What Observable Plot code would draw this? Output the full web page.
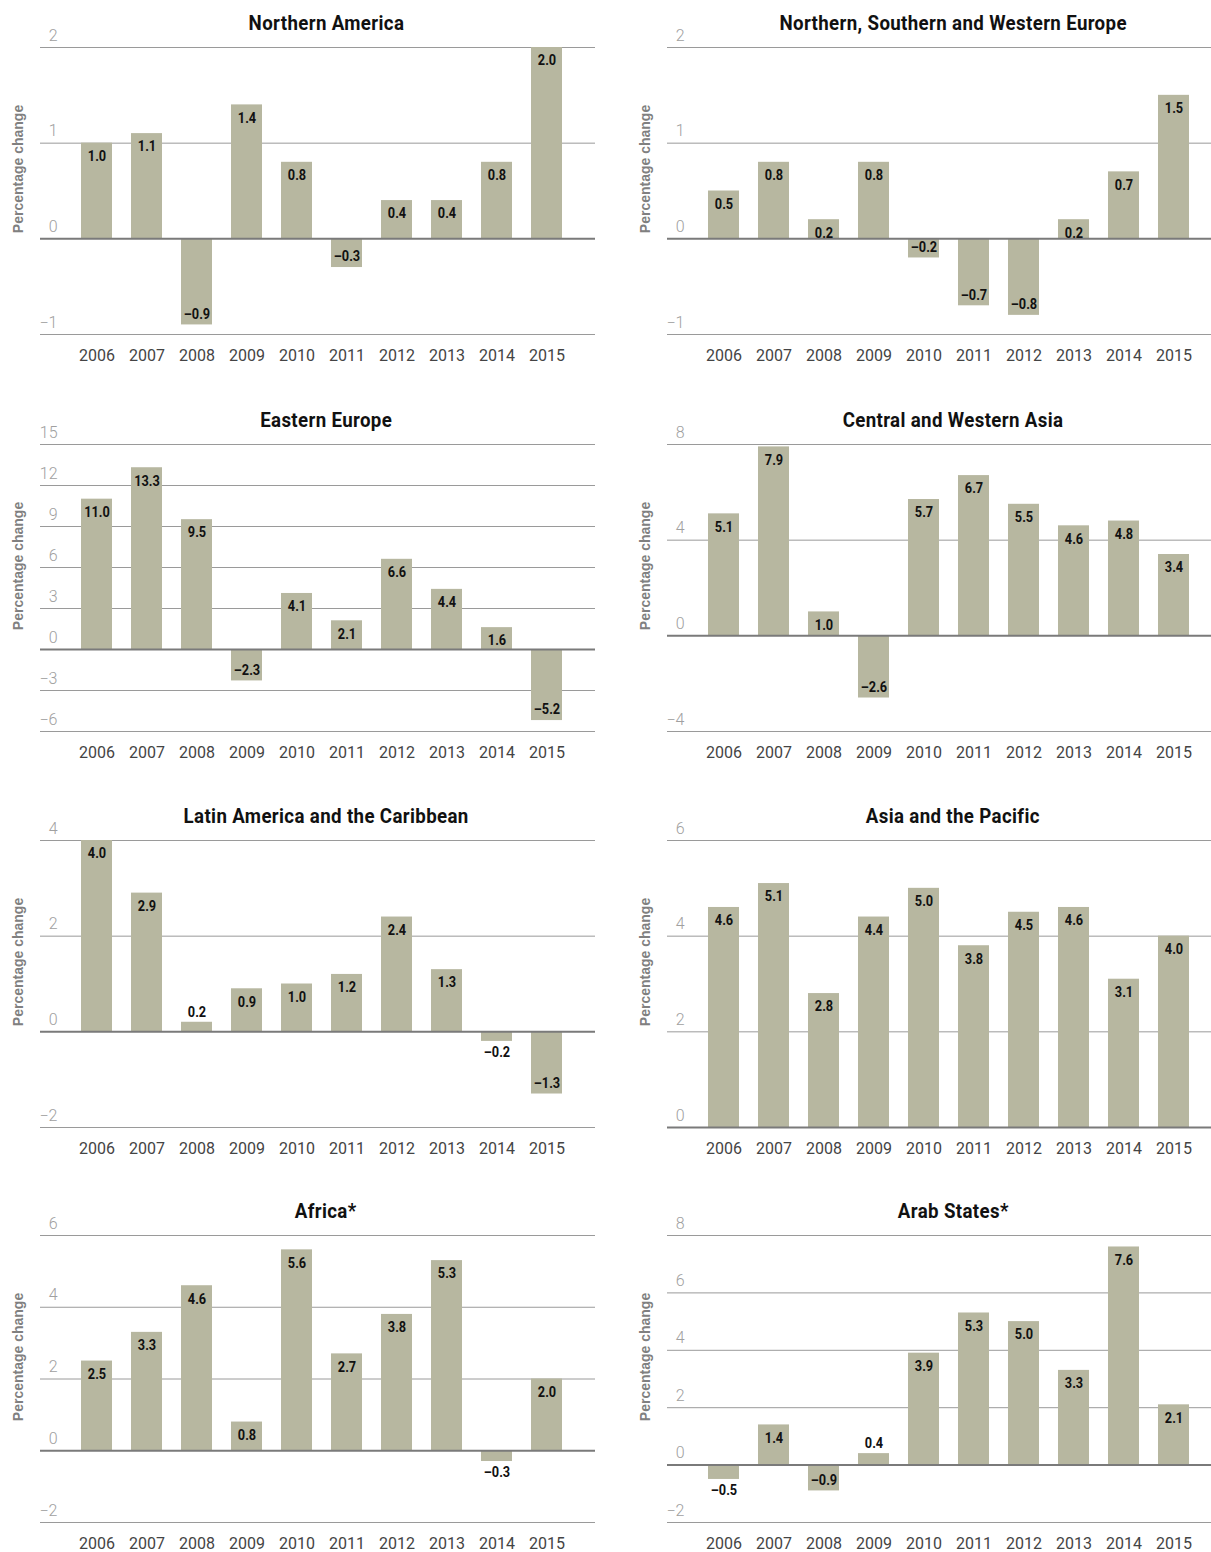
<!DOCTYPE html>
<html><head><meta charset="utf-8">
<script src="https://cdn.jsdelivr.net/npm/d3@7"></script>
<script src="https://cdn.jsdelivr.net/npm/@observablehq/plot@0.6"></script>
<style>
body{margin:0;background:#fff;}
#root{position:relative;width:1211px;height:1552px;overflow:hidden;background:#fff;}
.panel{position:absolute;}
.title{position:absolute;top:10px;left:0;width:652px;text-align:center;line-height:26px;}
.title span{display:inline-block;transform:scaleX(0.89);transform-origin:50% 50%;font-family:Roboto,"DejaVu Sans",sans-serif;font-weight:bold;font-size:21px;letter-spacing:0.4px;color:#111;white-space:nowrap;}
.panel svg{position:absolute;left:0;top:0;overflow:visible;}
</style></head>
<body><div id="root"></div>
<script>
const years = ["2006","2007","2008","2009","2010","2011","2012","2013","2014","2015"];

const northernAmerica = [1.0, 1.1, -0.9, 1.4, 0.8, -0.3, 0.4, 0.4, 0.8, 2.0];
const nswEurope       = [0.5, 0.8, 0.2, 0.8, -0.2, -0.7, -0.8, 0.2, 0.7, 1.5];
const easternEurope   = [11.0, 13.3, 9.5, -2.3, 4.1, 2.1, 6.6, 4.4, 1.6, -5.2];
const cwAsia          = [5.1, 7.9, 1.0, -2.6, 5.7, 6.7, 5.5, 4.6, 4.8, 3.4];
const latinAmerica    = [4.0, 2.9, 0.2, 0.9, 1.0, 1.2, 2.4, 1.3, -0.2, -1.3];
const asiaPacific     = [4.6, 5.1, 2.8, 4.4, 5.0, 3.8, 4.5, 4.6, 3.1, 4.0];
const africa          = [2.5, 3.3, 4.6, 0.8, 5.6, 2.7, 3.8, 5.3, -0.3, 2.0];
const arabStates      = [-0.5, 1.4, -0.9, 0.4, 3.9, 5.3, 5.0, 3.3, 7.6, 2.1];

const titles = ["Northern America", "Northern, Southern and Western Europe", "Eastern Europe",
  "Central and Western Asia", "Latin America and the Caribbean", "Asia and the Pacific",
  "Africa*", "Arab States*"];
const seriesList = [northernAmerica, nswEurope, easternEurope, cwAsia, latinAmerica, asiaPacific, africa, arabStates];
const yTicksNA  = [-1, 0, 1, 2];
const yTicksNSW = [-1, 0, 1, 2];
const yTicksEE  = [-6, -3, 0, 3, 6, 9, 12, 15];
const yTicksCWA = [-4, 0, 4, 8];
const yTicksLA  = [-2, 0, 2, 4];
const yTicksAP  = [0, 2, 4, 6];
const yTicksAF  = [-2, 0, 2, 4, 6];
const yTicksAR  = [-2, 0, 2, 4, 6, 8];
const tickList = [yTicksNA, yTicksNSW, yTicksEE, yTicksCWA, yTicksLA, yTicksAP, yTicksAF, yTicksAR];

const yLabel = "Percentage change";

const BAR = "#b7b7a0";
const BOLDF = 'Roboto,"DejaVu Sans",sans-serif';
const LIGHT = 'Roboto,"Liberation Sans",sans-serif';
const rowTops = [0, 397, 793, 1188];
const colLefts = [0, 627];
const MT = 47, PH = 287, MB = 40;
const fmt = v => (v < 0 ? "\u2013" + Math.abs(v).toFixed(1) : v.toFixed(1));
const fmtTick = v => (v < 0 ? "\u2212" + Math.abs(v) : String(v));

const root = document.getElementById("root");

seriesList.forEach((vals, i) => {
  const ticks = tickList[i];
  const dmin = d3.min(ticks), dmax = d3.max(ticks);
  const ppu = PH / (dmax - dmin);
  const data = years.map((y, j) => ({year: y, value: vals[j], inside: Math.abs(vals[j]) * ppu >= 16}));
  const col = i % 2, row = Math.floor(i / 2);
  const width = col === 0 ? 600 : 584;

  const panel = document.createElement("div");
  panel.className = "panel";
  panel.style.left = colLefts[col] + "px";
  panel.style.top = rowTops[row] + "px";
  panel.style.width = width + "px";
  panel.style.height = (MT + PH + MB) + "px";

  const valText = {x: "year", y: "value", text: d => fmt(d.value),
    fontFamily: BOLDF, fontWeight: "bold", fontSize: 15, fill: "#111"};

  const chart = Plot.plot({
    width, height: MT + PH + MB,
    marginLeft: 40, marginRight: width === 600 ? 5 : 0, marginTop: MT, marginBottom: MB,
    style: {fontFamily: LIGHT, background: "transparent", overflow: "visible"},
    x: {type: "band", domain: years, range: [51.6, 590.6], paddingInner: 0.39, paddingOuter: 0.5, axis: null},
    y: {domain: [dmin, dmax], axis: null},
    marks: [
      Plot.ruleY(ticks.filter(t => t !== 0), {stroke: "#9a9a9a", strokeWidth: 1}),
      Plot.barY(data, {x: "year", y: "value", fill: BAR}),
      Plot.ruleY([0], {stroke: "#7a7a7a", strokeWidth: 2}),
      Plot.text(ticks, {y: d => d, text: fmtTick, frameAnchor: "left", textAnchor: "end", dx: 17, dy: -12,
        fill: "#a0a0a0", fontSize: 16, fontWeight: 300, fontFamily: LIGHT}),
      Plot.axisX({anchor: "bottom", tickSize: 0, tickPadding: 15, fontSize: 16, fill: "#444",
        fontWeight: 400, fontFamily: LIGHT, label: null}),
      Plot.text(data.filter(d => d.value >= 0 && d.inside), {...valText, dy: 13}),
      Plot.text(data.filter(d => d.value >= 0 && !d.inside), {...valText, dy: -10}),
      Plot.text(data.filter(d => d.value < 0 && d.inside), {...valText, dy: -11}),
      Plot.text(data.filter(d => d.value < 0 && !d.inside), {...valText, dy: 11}),
      Plot.text([yLabel], {frameAnchor: "left", textAnchor: "middle", dx: -22, dy: -22, rotate: -90, fill: "#808080",
        fontFamily: '"Liberation Sans",Arial,sans-serif', fontWeight: "bold", fontSize: 14, letterSpacing: 0.6})
    ]
  });

  // condense the bold value labels horizontally (narrow typeface look)
  chart.querySelectorAll('g[font-size="15"] text').forEach(tx => {
    let tr = tx.getAttribute("transform");
    if (!tr) {
      const x = tx.getAttribute("x") || 0, y = tx.getAttribute("y") || 0;
      tx.removeAttribute("x"); tx.removeAttribute("y");
      tr = `translate(${x},${y})`;
    }
    tx.setAttribute("transform", tr + " scale(0.85,1)");
  });

  panel.appendChild(chart);

  const t = document.createElement("div");
  t.className = "title";
  const s = document.createElement("span");
  s.textContent = titles[i];
  t.appendChild(s);
  panel.appendChild(t);
  root.appendChild(panel);
});
</script>
</body></html>
